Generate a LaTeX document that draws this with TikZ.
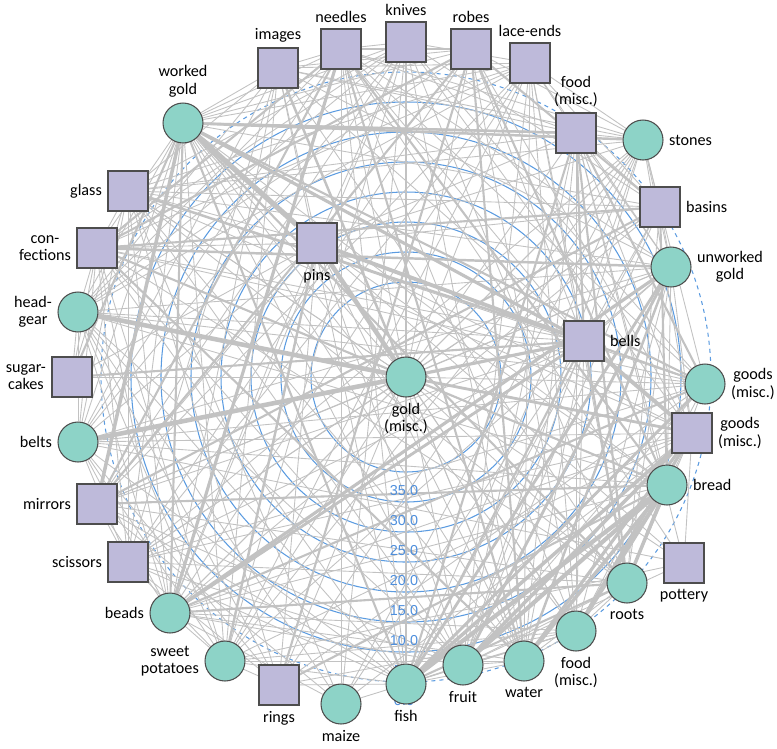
\documentclass[tikz,border=0pt]{standalone}
\usepackage{fontspec}
\setmainfont{Carlito}
\newfontfamily\tickfont{Liberation Sans}
\usetikzlibrary{positioning}
\definecolor{nodeteal}{HTML}{8DD3C7}
\definecolor{nodelilac}{HTML}{BEBADA}
\definecolor{nodeline}{HTML}{4D4D4D}
\definecolor{linkgray}{HTML}{C2C2C2}
\definecolor{ringblue}{HTML}{5B9BE0}
\definecolor{tickblue}{HTML}{4F8FDC}
\pgfdeclarelayer{rings}
\pgfdeclarelayer{links}
\pgfdeclarelayer{ticks}
\pgfsetlayers{rings,links,ticks,main}

\tikzset{
  roundnode/.style={circle, fill=nodeteal, draw=nodeline, line width=0.6pt, minimum size=0.8cm, inner sep=0pt},
  squarenode/.style={rectangle, fill=nodelilac, draw=nodeline, line width=0.6pt, minimum size=0.8cm, inner sep=0pt},
  lbl/.style={align=center, font=\fontsize{9.2}{9.8}\selectfont, inner sep=1.5pt},
  link/.style={draw=linkgray, line width=0.5pt},
  ring/.style={draw=ringblue, line width=0.6pt},
  tick/.style={text=tickblue, font=\tickfont\fontsize{8.2}{8.2}\selectfont, inner sep=0pt}
}

% pairwise link weights, same order as \nodelist
\def\nodelist{knives,robes,laceends,foodsq,stones,basins,ugold,goodsc,goodssq,bread,pottery,roots,foodc,water,fruit,fish,maize,rings,sweetp,beads,scissors,mirrors,belts,sugar,headgear,confect,glass,wgold,images,needles,pins,bells,gold}
\def\wlist{{80,80,75,80,70,70,85,75,85,80,35,75,75,75,80,80,40,55,70,90,80,80,85,85,85,85,85,95,80,85,90,95,95}}

\begin{document}
\begin{tikzpicture}[x=0.02cm, y=-0.02cm, label distance=1.5pt]
  \useasboundingbox (0,0) rectangle (777,748);

  % inner nodes
  \node[roundnode, label={[lbl]below:gold\\(misc.)}] (gold) at (406,377) {};
  \node[squarenode, label={[lbl]below:pins}] (pins) at (317,243) {};
  \node[squarenode, label={[lbl]right:bells}] (bells) at (584,341) {};

  % outer ring, clockwise from the top
  \node[squarenode, label={[lbl]above:knives}] (knives) at (406,42) {};
  \node[squarenode, label={[lbl]above:robes}] (robes) at (471,49) {};
  \node[squarenode, label={[lbl]above:lace-ends}] (laceends) at (530,63) {};
  \node[squarenode, label={[lbl]above:food\\(misc.)}] (foodsq) at (576,133) {};
  \node[roundnode, label={[lbl]right:stones}] (stones) at (643,140) {};
  \node[squarenode, label={[lbl]right:basins}] (basins) at (660,207) {};
  \node[roundnode, label={[lbl]right:unworked\\gold}] (ugold) at (671,267) {};
  \node[roundnode, label={[lbl]right:goods\\(misc.)}] (goodsc) at (705,384) {};
  \node[squarenode, label={[lbl]right:goods\\(misc.)}] (goodssq) at (692,433) {};
  \node[roundnode, label={[lbl]right:bread}] (bread) at (667,485) {};
  \node[squarenode, label={[lbl]below:pottery}] (pottery) at (684,563) {};
  \node[roundnode, label={[lbl]below:roots}] (roots) at (627,583) {};
  \node[roundnode, label={[lbl]below:food\\(misc.)}] (foodc) at (576,631) {};
  \node[roundnode, label={[lbl]below:water}] (water) at (524,661) {};
  \node[roundnode, label={[lbl]below:fruit}] (fruit) at (463,665) {};
  \node[roundnode, label={[lbl]below:fish}] (fish) at (406,684) {};
  \node[roundnode, label={[lbl]below:maize}] (maize) at (341,704) {};
  \node[squarenode, label={[lbl]below:rings}] (rings) at (279,685) {};
  \node[roundnode, label={[lbl]left:sweet\\potatoes}] (sweetp) at (225,661) {};
  \node[roundnode, label={[lbl]left:beads}] (beads) at (170,613) {};
  \node[squarenode, label={[lbl]left:scissors}] (scissors) at (128,562) {};
  \node[squarenode, label={[lbl]left:mirrors}] (mirrors) at (97,504) {};
  \node[roundnode, label={[lbl]left:belts}] (belts) at (78,442) {};
  \node[squarenode, label={[lbl]left:sugar-\\cakes}] (sugar) at (72,377) {};
  \node[roundnode, label={[lbl]left:head-\\gear}] (headgear) at (78,312) {};
  \node[squarenode, label={[lbl]left:con-\\fections}] (confect) at (97,248) {};
  \node[squarenode, label={[lbl]left:glass}] (glass) at (128,191) {};
  \node[roundnode, label={[lbl]above:worked\\gold}] (wgold) at (183,123) {};
  \node[squarenode, label={[lbl]above:images}] (images) at (278,68) {};
  \node[squarenode, label={[lbl]above:needles}] (needles) at (341,49) {};

  % scale rings round gold
  \begin{pgfonlayer}{rings}
    \foreach \r in {95,125,...,275}
      \draw[ring] (gold.center) circle[radius=\r*0.02cm];
    \draw[ring, dash pattern=on 2.3pt off 2.3pt] (gold.center) circle[radius=305*0.02cm];
  \end{pgfonlayer}
  \begin{pgfonlayer}{ticks}
    \foreach \v/\r in {35.0/95, 30.0/125, 25.0/155, 20.0/185, 15.0/215, 10.0/245, 5.0/275, 0.0/305}
      \node[tick] (t\r) at ([shift={(-2,\r+19)}]gold.center) {\v};
  \end{pgfonlayer}

  \begin{pgfonlayer}{links}
    % thin links
    \foreach \a [count=\i] in \nodelist {
      \foreach \b [count=\j] in \nodelist {
        \ifnum\j>\i
          \pgfmathtruncatemacro\h{mod(\i*37+\j*53+\i*\j*11,100)}
          \pgfmathtruncatemacro\t{\wlist[\i-1]*\wlist[\j-1]/100}
          \pgfmathtruncatemacro\m{mod(\h,4)}
          \ifnum\h<\t
            \ifnum\m=0
              \draw[link, line width=1.2pt] (\a) -- (\b);
            \else
              \draw[link] (\a) -- (\b);
            \fi
          \fi
        \fi
      }
    }
    % heavy links
    \foreach \a/\b/\w in {wgold/pins/3.0, pins/gold/2.6, headgear/gold/2.6, belts/gold/2.6,
        gold/bells/1.8, pins/bells/2.2, bells/goodssq/2.2, wgold/bells/1.8, gold/goodssq/1.6,
        fish/bread/2.4, fruit/bread/2.4, water/bread/2.0, foodc/bread/2.4, roots/bread/2.0,
        fish/goodssq/2.0, fruit/goodssq/2.0, water/goodssq/1.8, foodc/goodssq/1.8,
        fish/ugold/1.6, fruit/ugold/1.6, water/ugold/1.4, fish/goodsc/1.6,
        wgold/mirrors/2.0, needles/beads/1.8, beads/bells/1.6, beads/ugold/1.8,
        sweetp/pins/1.4, wgold/stones/1.4, wgold/foodsq/1.4, glass/bells/1.4,
        confect/ugold/1.4, images/gold/1.4, knives/fish/1.4}
      \draw[link, line width=\w pt] (\a) -- (\b);
  \end{pgfonlayer}
\end{tikzpicture}
\end{document}
